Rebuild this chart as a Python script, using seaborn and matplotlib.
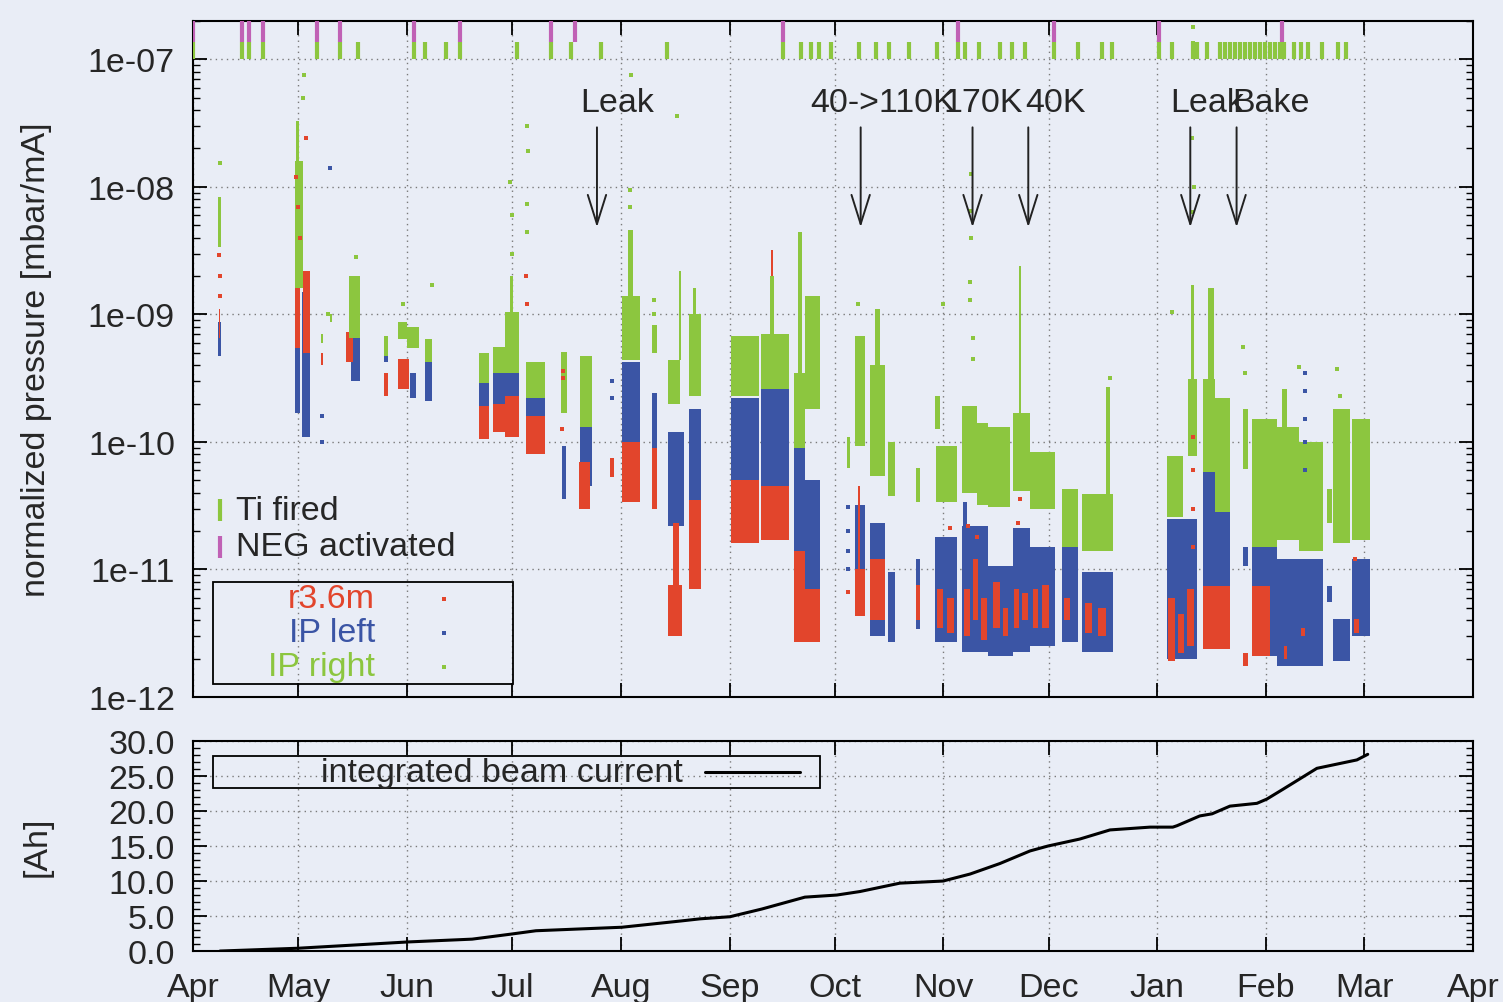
import matplotlib
matplotlib.use("Agg")
import matplotlib.pyplot as plt
import matplotlib.ticker as mticker
from matplotlib.patches import Rectangle
import pandas as pd
import seaborn as sns

sns.set_style("ticks")
plt.rcParams["font.family"] = ["Liberation Sans", "DejaVu Sans"]

# ---- data (days since 1 Apr, pressure in mbar/mA, charge in Ah) ----
MONTH_DAYS = [0, 30, 61, 91, 122, 153, 183, 214, 244, 275, 306, 334, 365]
MONTH_LABELS = ["Apr", "May", "Jun", "Jul", "Aug", "Sep", "Oct", "Nov",
                "Dec", "Jan", "Feb", "Mar", "Apr"]

# measurement clusters: (day start, day end, low, high)
RED_BLOCKS = [
    (7.3, 7.8, 6.5e-10, 1.1e-9), (29.0, 30.5, 5.5e-10, 2.0e-9),
    (31.5, 33.5, 5.0e-10, 2.2e-9), (36.5, 37.2, 4.0e-10, 5.0e-10),
    (43.5, 45.5, 4.2e-10, 7.3e-10), (54.5, 55.5, 2.3e-10, 3.5e-10),
    (58.5, 61.5, 2.6e-10, 4.5e-10), (81.5, 84.5, 1.05e-10, 1.9e-10),
    (85.5, 89.0, 1.2e-10, 2.0e-10), (89.0, 93.0, 1.1e-10, 2.3e-10),
    (95.0, 100.5, 8.0e-11, 1.6e-10), (110.0, 113.2, 3.0e-11, 7.0e-11),
    (119.0, 120.0, 5.3e-11, 7.5e-11), (122.3, 127.5, 3.4e-11, 1.0e-10),
    (130.8, 132.2, 3.0e-11, 9.0e-11), (135.5, 139.5, 3.0e-12, 7.5e-12),
    (137.0, 138.5, 7.5e-12, 2.3e-11), (141.5, 144.8, 7.0e-12, 3.5e-11),
    (153.5, 161.5, 1.6e-11, 5.0e-11), (162.0, 170.0, 1.7e-11, 4.5e-11),
    (164.8, 165.4, 4.0e-10, 3.2e-9), (171.5, 174.5, 2.7e-12, 1.4e-11),
    (174.5, 178.8, 2.7e-12, 7.0e-12), (188.8, 191.6, 4.3e-12, 1.0e-11),
    (189.5, 190.2, 1.0e-11, 4.5e-11), (193.0, 197.3, 4.0e-12, 1.2e-11),
    (206.3, 207.3, 4.0e-12, 7.5e-12),
    (212.2, 214.0, 3.5e-12, 7.0e-12), (215.0, 217.0, 3.2e-12, 6.0e-12),
    (219.8, 221.5, 3.0e-12, 7.0e-12), (222.3, 224.0, 4.0e-12, 1.2e-11),
    (224.8, 226.5, 2.8e-12, 6.0e-12), (228.0, 230.0, 3.5e-12, 8.0e-12),
    (231.0, 232.5, 3.0e-12, 5.0e-12), (234.0, 235.5, 3.5e-12, 7.0e-12),
    (236.5, 238.0, 4.0e-12, 6.5e-12), (239.5, 241.0, 3.5e-12, 7.0e-12),
    (242.0, 244.0, 3.5e-12, 7.5e-12), (248.5, 250.0, 4.0e-12, 6.0e-12),
    (254.5, 256.5, 3.2e-12, 5.5e-12), (258.0, 260.5, 3.0e-12, 5.0e-12),
    (278.0, 280.0, 1.9e-12, 6.0e-12), (280.8, 282.5, 2.2e-12, 4.5e-12),
    (283.5, 285.5, 2.5e-12, 7.0e-12), (288.0, 295.7, 2.4e-12, 7.4e-12),
    (299.4, 300.8, 1.75e-12, 2.2e-12), (302.0, 307.1, 2.1e-12, 7.4e-12),
    (311.0, 312.0, 2.0e-12, 2.5e-12), (316.0, 317.0, 3.0e-12, 3.5e-12),
    (331.0, 332.5, 3.2e-12, 4.1e-12),
]
BLUE_BLOCKS = [
    (7.2, 8.0, 4.7e-10, 8.7e-10), (29.0, 30.5, 1.7e-10, 6.0e-10),
    (31.0, 33.5, 1.1e-10, 1.5e-9), (45.0, 47.5, 3.0e-10, 6.5e-10),
    (54.5, 55.5, 4.2e-10, 4.9e-10), (62.0, 63.5, 2.2e-10, 3.5e-10),
    (66.2, 68.2, 2.1e-10, 4.2e-10), (81.5, 84.5, 1.8e-10, 2.9e-10),
    (85.5, 89.0, 2.0e-10, 3.5e-10), (89.0, 93.0, 1.6e-10, 3.5e-10),
    (95.0, 100.5, 1.2e-10, 2.2e-10), (105.2, 106.4, 3.6e-11, 9.3e-11),
    (110.4, 113.8, 4.5e-11, 1.5e-10), (122.3, 127.5, 7.0e-11, 4.2e-10),
    (130.8, 132.2, 7.0e-11, 2.4e-10), (135.5, 140.0, 2.2e-11, 1.2e-10),
    (141.5, 144.8, 3.4e-11, 1.8e-10), (153.5, 161.5, 5.0e-11, 2.2e-10),
    (162.0, 170.0, 4.5e-11, 2.7e-10), (171.5, 174.5, 1.2e-11, 1.3e-10),
    (174.5, 178.8, 7.0e-12, 5.0e-11), (188.8, 191.6, 5.0e-12, 3.2e-11),
    (193.0, 197.3, 3.0e-12, 2.3e-11), (198.3, 200.2, 2.7e-12, 9.5e-12),
    (206.3, 207.3, 3.4e-12, 1.2e-11),
    (211.6, 217.9, 2.7e-12, 1.8e-11), (219.3, 226.7, 2.25e-12, 2.2e-11),
    (219.6, 220.8, 2.2e-11, 3.4e-11), (226.7, 233.8, 2.1e-12, 1.06e-11),
    (233.8, 238.7, 2.25e-12, 2.1e-11), (238.7, 245.8, 2.5e-12, 1.5e-11),
    (247.8, 252.4, 2.7e-12, 2.2e-11), (253.5, 262.3, 2.25e-12, 9.6e-12),
    (277.7, 286.3, 2.0e-12, 2.5e-11), (288.0, 295.7, 7.4e-12, 5.8e-11),
    (299.4, 300.8, 1.06e-11, 1.5e-11), (302.0, 309.1, 2.1e-12, 4.5e-11),
    (309.1, 322.2, 1.75e-12, 1.2e-11), (323.3, 324.8, 5.6e-12, 7.4e-12),
    (325.1, 329.9, 1.9e-12, 4.1e-12), (330.5, 335.6, 3.0e-12, 1.2e-11),
]
GREEN_BLOCKS = [
    (7.2, 8.0, 3.4e-9, 8.3e-9), (29.2, 31.5, 1.6e-9, 1.6e-8),
    (29.5, 30.2, 1.6e-8, 3.3e-8), (36.5, 37.2, 6.0e-10, 7.0e-10),
    (39.0, 39.7, 8.7e-10, 1.0e-9), (44.5, 47.6, 6.5e-10, 2.0e-9),
    (54.5, 55.5, 4.7e-10, 6.8e-10), (58.5, 61.0, 6.4e-10, 8.7e-10),
    (61.0, 64.5, 5.5e-10, 8.0e-10), (66.2, 68.2, 4.2e-10, 6.4e-10),
    (81.5, 84.5, 2.9e-10, 5.0e-10), (85.5, 89.0, 3.5e-10, 5.6e-10),
    (89.0, 93.0, 3.5e-10, 1.05e-9), (90.5, 91.3, 1.0e-9, 2.0e-9),
    (95.0, 100.5, 2.2e-10, 4.2e-10), (104.9, 106.6, 1.7e-10, 5.1e-10),
    (110.4, 113.8, 1.3e-10, 4.7e-10), (122.3, 127.5, 4.4e-10, 1.4e-9),
    (124.0, 125.5, 1.4e-9, 4.6e-9), (130.8, 132.2, 5.0e-10, 8.3e-10),
    (135.5, 139.0, 2.0e-10, 4.4e-10), (138.5, 139.2, 4.4e-10, 2.2e-9),
    (141.5, 144.8, 2.3e-10, 1.0e-9), (142.5, 143.5, 1.0e-9, 1.6e-9),
    (153.5, 161.5, 2.3e-10, 6.8e-10), (162.0, 170.0, 2.6e-10, 7.0e-10),
    (164.6, 165.6, 7.0e-10, 2.0e-9), (171.5, 174.5, 9.0e-11, 3.5e-10),
    (172.5, 173.8, 3.5e-10, 4.4e-9), (174.5, 178.8, 1.8e-10, 1.4e-9),
    (186.5, 187.3, 6.2e-11, 1.1e-10), (188.8, 191.6, 9.3e-11, 6.8e-10),
    (193.0, 197.3, 5.4e-11, 4.0e-10), (194.5, 196.0, 4.0e-10, 1.1e-9),
    (198.3, 200.2, 3.8e-11, 1.0e-10), (206.3, 207.3, 3.4e-11, 6.2e-11),
    (211.6, 213.0, 1.26e-10, 2.3e-10), (212.0, 217.9, 3.4e-11, 9.3e-11),
    (219.3, 223.5, 4.0e-11, 1.9e-10), (223.5, 226.7, 3.2e-11, 1.4e-10),
    (226.7, 233.0, 3.1e-11, 1.3e-10), (233.8, 238.7, 4.1e-11, 1.7e-10),
    (235.5, 236.2, 1.7e-10, 2.4e-9), (238.7, 245.8, 3.0e-11, 8.4e-11),
    (247.8, 252.4, 1.5e-11, 4.3e-11), (253.5, 262.3, 1.4e-11, 3.9e-11),
    (260.3, 261.5, 3.9e-11, 2.7e-10),
    (277.7, 282.3, 2.6e-11, 7.7e-11), (283.7, 286.3, 7.7e-11, 3.1e-10),
    (284.5, 285.5, 3.1e-10, 1.7e-9), (288.0, 291.5, 5.8e-11, 3.1e-10),
    (291.5, 295.7, 2.8e-11, 2.2e-10), (289.5, 291.3, 3.1e-10, 1.6e-9),
    (299.4, 300.8, 6.1e-11, 1.8e-10), (302.0, 309.1, 1.5e-11, 1.5e-10),
    (309.1, 315.5, 1.7e-11, 1.3e-10), (315.5, 322.2, 1.4e-11, 1.0e-10),
    (310.5, 312.0, 1.3e-10, 2.6e-10), (323.3, 324.8, 2.3e-11, 4.3e-11),
    (325.1, 329.9, 1.6e-11, 1.8e-10), (330.5, 335.6, 1.7e-11, 1.5e-10),
]

# isolated readings: (day, pressure)
RED_POINTS = [
    (7.6, 1.4e-9), (7.6, 2.0e-9), (7.5, 2.9e-9), (29.5, 1.2e-8), (30.0, 7.0e-9),
    (32.2, 2.4e-8), (30.5, 4.0e-9), (105.5, 3.6e-10), (105.5, 3.2e-10),
    (105.3, 1.26e-10), (95.0, 2.0e-9), (95.2, 1.2e-9), (186.8, 6.6e-12),
    (285.1, 1.1e-10), (285.1, 6.0e-11), (285.1, 3.0e-11), (285.1, 1.5e-11),
    (215.8, 2.1e-11), (221.0, 2.2e-11), (223.5, 1.8e-11), (235.3, 2.3e-11),
    (235.8, 3.6e-11), (331.5, 1.2e-11),
]
BLUE_POINTS = [
    (39.0, 1.4e-8), (36.8, 1.6e-10), (36.8, 1.0e-10), (119.5, 3.0e-10),
    (119.5, 2.2e-10), (186.8, 3.1e-11), (186.8, 2.0e-11), (186.8, 1.4e-11),
    (186.8, 1.0e-11), (317.2, 3.5e-10), (317.2, 2.5e-10), (317.2, 1.5e-10),
    (317.2, 1.0e-10), (317.2, 6.0e-11),
]
GREEN_POINTS = [
    (7.7, 1.55e-8), (31.8, 7.6e-8), (31.5, 5.0e-8), (38.5, 1.0e-9), (46.5, 2.8e-9),
    (60.0, 1.2e-9), (68.1, 1.7e-9), (90.5, 1.1e-8), (91.0, 6.0e-9), (91.0, 3.0e-9),
    (95.2, 3.0e-8), (95.5, 1.9e-8), (95.3, 7.3e-9), (95.2, 4.4e-9), (124.5, 9.5e-9),
    (124.5, 7.0e-9), (124.8, 7.6e-8), (138.0, 3.6e-8), (131.5, 1.3e-9),
    (131.5, 1.0e-9), (189.6, 1.2e-9), (214.0, 1.2e-9), (221.6, 1.8e-9),
    (221.6, 1.3e-9), (222.4, 6.5e-10), (222.4, 4.5e-10), (221.8, 1.26e-8),
    (222.0, 6.5e-9), (222.0, 4.0e-9), (261.5, 3.2e-10), (279.2, 1.05e-9),
    (285.0, 2.4e-8), (285.5, 1.0e-8), (285.0, 6.3e-9), (285.1, 1.8e-7),
    (285.1, 1.35e-7), (299.5, 5.6e-10), (300.0, 3.5e-10), (315.5, 3.9e-10),
    (327.0, 2.3e-10), (326.2, 3.7e-10),
]

TI_DAYS = [0, 14, 16, 20, 35.4, 42, 47, 63, 66.2, 72.1, 76.1, 92.4, 102.1, 107.8,
           116.3, 135.2, 168.2, 173.4, 176.2, 178.5, 182, 189.9, 194.8, 198.5,
           204.2, 212.1, 218.1, 220.1, 224.1, 230.1, 233.5, 237.2, 245.5, 252.4,
           259.2, 262, 275.4, 279.2, 285.1, 286.3, 289.1, 292.8, 294.3, 295.7,
           297.1, 298.5, 299.9, 301.4, 302.8, 304.2, 305.6, 307.1, 308.5, 309.9,
           311.1, 314, 316, 318, 322, 326.5, 328.8]
NEG_DAYS = [0, 14, 16, 20, 35.4, 42, 63, 76.1, 102.1, 108.9, 168.2, 218.1, 245.5,
            275.4, 310.5]

EVENT_LABELS = ["Leak", "40->110K", "170K", "40K", "Leak", "Bake"]
EVENT_TEXT_DAY = [110.4, 175.9, 213.9, 237.2, 278.6, 296.3]
EVENT_ARROW_DAY = [115.2, 190.4, 222.3, 238.2, 284.4, 297.6]

BEAM_DAYS = [7.7, 29.9, 61.3, 79.6, 90.4, 97.8, 122.3, 139.2, 144.6, 153.1, 162.2,
             174.5, 183.6, 190.2, 201.6, 213.9, 221.6, 230.1, 238.7, 243.8, 252.9,
             261.5, 272.9, 279.4, 280.6, 287.1, 290.6, 295.7, 303.4, 306.2, 310.8,
             320.5, 326.2, 331.9, 335.0]
BEAM_AH = [0.0, 0.4, 1.3, 1.7, 2.4, 2.9, 3.4, 4.3, 4.6, 4.9, 6.0, 7.7, 8.0, 8.5,
           9.7, 10.0, 11.0, 12.5, 14.3, 15.0, 16.0, 17.3, 17.7, 17.7, 17.9, 19.3,
           19.6, 20.7, 21.1, 21.7, 23.1, 26.1, 26.7, 27.3, 28.1]

BG = "#e9edf6"
RED = "#e2452c"
BLUE = "#3b55a5"
GREEN = "#8cc63f"
PURPLE = "#c061b5"
FS = 24.5


def draw_blocks(ax, blocks, color, z):
    b = pd.DataFrame(blocks, columns=["t0", "t1", "lo", "hi"])
    ax.bar(b["t0"], b["hi"] - b["lo"], width=b["t1"] - b["t0"], bottom=b["lo"],
           align="edge", color=color, linewidth=0, zorder=z)


def draw_points(ax, points, color):
    p = pd.DataFrame(points, columns=["day", "p"])
    sns.scatterplot(data=p, x="day", y="p", color=color, marker="s", s=10,
                    linewidth=0, ax=ax, zorder=6, legend=False)


def style_axis(ax):
    ax.set_facecolor(BG)
    for sp in ax.spines.values():
        sp.set_color("black")
        sp.set_linewidth(1.5)
    ax.set_axisbelow(True)
    ax.grid(True, which="major", ls=(0, (1, 3)), color="#7a7a7a", lw=1.0)
    ax.tick_params(which="both", direction="in", top=True, right=True,
                   labelsize=FS, color="black")
    ax.tick_params(which="major", length=10, width=1.3)
    ax.tick_params(which="minor", length=5, width=1.0)
    ax.set_xlim(0, 365)
    ax.set_xticks(MONTH_DAYS)
    ax.xaxis.set_minor_locator(mticker.NullLocator())


fig = plt.figure(figsize=(15.03, 10.03), dpi=100, facecolor=BG)
ax = fig.add_axes([0.1284, 0.3041, 0.8516, 0.6740])
ax2 = fig.add_axes([0.1284, 0.0508, 0.8516, 0.2094])

# ---- top panel: pressures ----
ax.set_yscale("log")
draw_blocks(ax, BLUE_BLOCKS, BLUE, 3)
draw_blocks(ax, RED_BLOCKS, RED, 4)
draw_blocks(ax, GREEN_BLOCKS, GREEN, 5)
draw_points(ax, RED_POINTS, RED)
draw_points(ax, BLUE_POINTS, BLUE)
draw_points(ax, GREEN_POINTS, GREEN)

ax.vlines(TI_DAYS, 1.0e-7, 1.36e-7, color=GREEN, lw=3, zorder=7)
ax.vlines(NEG_DAYS, 1.36e-7, 2.0e-7, color=PURPLE, lw=3, zorder=7)

style_axis(ax)
ax.set_ylim(1e-12, 2e-7)
decades = [1e-12, 1e-11, 1e-10, 1e-9, 1e-8, 1e-7]
ax.yaxis.set_major_locator(mticker.FixedLocator(decades))
ax.yaxis.set_major_formatter(mticker.FixedFormatter(
    ["1e-12", "1e-11", "1e-10", "1e-09", "1e-08", "1e-07"]))
ax.yaxis.set_minor_locator(mticker.LogLocator(base=10, subs=range(2, 10)))
ax.yaxis.set_minor_formatter(mticker.NullFormatter())
ax.tick_params(axis="y", pad=13)
ax.tick_params(axis="x", labelbottom=False)
ax.set_xlabel("")
ax.set_ylabel("normalized pressure [mbar/mA]", fontsize=FS)
ax.yaxis.set_label_coords(-0.110, 0.5)

for lab, tday, aday in zip(EVENT_LABELS, EVENT_TEXT_DAY, EVENT_ARROW_DAY):
    ax.text(tday, 3.91e-8, lab, fontsize=FS, ha="left", va="baseline", zorder=8)
    ax.annotate("", xy=(aday, 4.82e-9), xytext=(aday, 2.93e-8),
                arrowprops=dict(arrowstyle="->,head_length=0.7,head_width=0.22",
                                color="#222222", lw=1.4, mutation_scale=30,
                                shrinkA=0, shrinkB=0), zorder=8)

# key for the getter marks
tr = ax.transAxes
ax.plot([0.0211], [0.2766], transform=tr, marker="|", ms=16, mew=3, color=GREEN, ls="none")
ax.plot([0.0211], [0.2219], transform=tr, marker="|", ms=16, mew=3, color=PURPLE, ls="none")
ax.text(0.0336, 0.2766, "Ti fired", transform=tr, fontsize=FS, va="center", ha="left")
ax.text(0.0336, 0.2219, "NEG activated", transform=tr, fontsize=FS, va="center", ha="left")

# key for the gauges
ax.add_patch(Rectangle((0.0156, 0.0192), 0.2344, 0.1509, transform=tr, fill=False,
                       ec="black", lw=1.3, zorder=9))
for lab, col, yy in [("r3.6m", RED, 0.145), ("IP left", BLUE, 0.0947), ("IP right", GREEN, 0.0444)]:
    ax.text(0.1422, yy, lab, transform=tr, fontsize=FS, color=col, va="center", ha="right", zorder=9)
    ax.plot([0.196], [yy], transform=tr, marker="s", ms=2.5, mew=0, color=col, ls="none", zorder=9)

# ---- bottom panel: integrated beam current ----
beam = pd.DataFrame({"day": BEAM_DAYS, "ah": BEAM_AH})
sns.lineplot(data=beam, x="day", y="ah", color="black", lw=2.2, ax=ax2, zorder=5)
style_axis(ax2)
ax2.set_ylim(0, 30)
ax2.set_yticks([0, 5, 10, 15, 20, 25, 30])
ax2.yaxis.set_major_formatter(mticker.FormatStrFormatter("%.1f"))
ax2.yaxis.set_minor_locator(mticker.MultipleLocator(1))
ax2.set_xticklabels(MONTH_LABELS)
ax2.tick_params(axis="y", pad=13)
ax2.tick_params(axis="x", pad=15)
ax2.set_xlabel("")
ax2.set_ylabel("[Ah]", fontsize=FS)
ax2.yaxis.set_label_coords(-0.110, 0.5)

tr2 = ax2.transAxes
ax2.add_patch(Rectangle((0.0156, 0.776), 0.4742, 0.1526, transform=tr2, fill=False,
                        ec="black", lw=1.3, zorder=9))
ax2.text(0.3828, 0.852, "integrated beam current", transform=tr2, fontsize=FS,
         va="center", ha="right", zorder=9)
ax2.plot([0.40, 0.474], [0.852, 0.852], transform=tr2, color="black", lw=2.2, zorder=9)

fig.savefig("out.png", dpi=100, facecolor=BG)
